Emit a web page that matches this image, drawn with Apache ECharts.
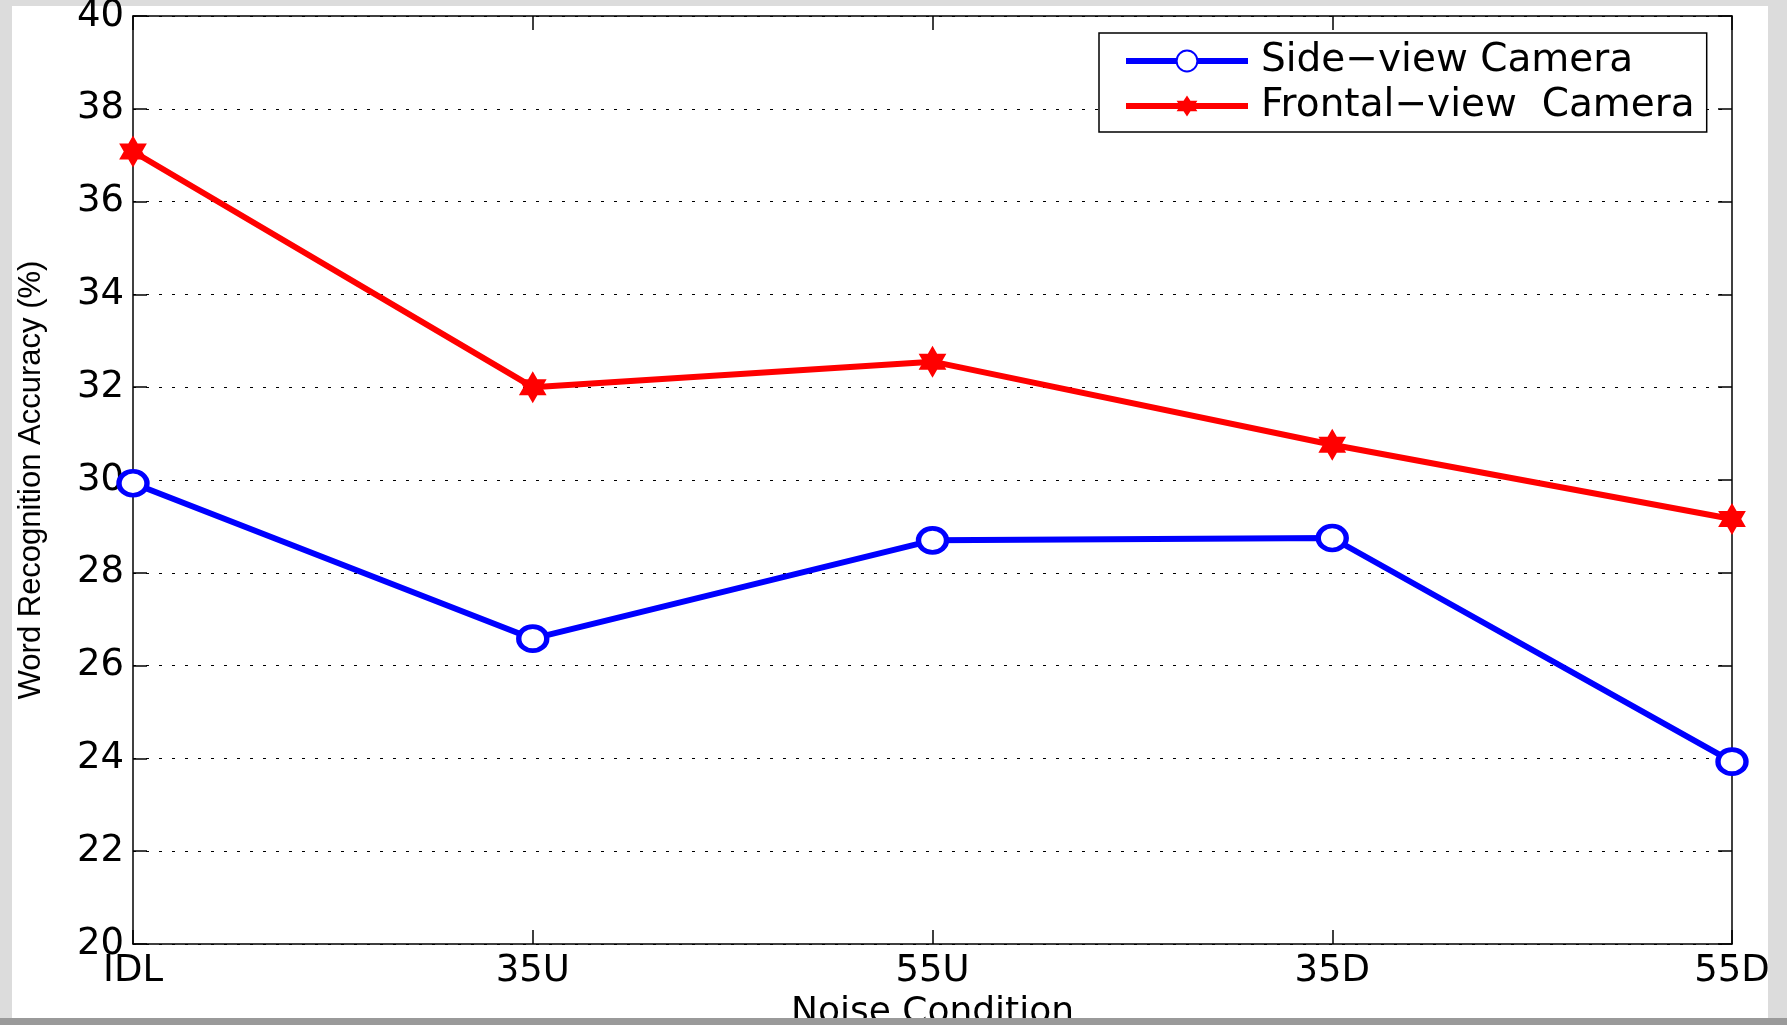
<!DOCTYPE html>
<html><head><meta charset="utf-8">
<script src="https://cdn.jsdelivr.net/npm/echarts@6/dist/echarts.min.js"></script>
<style>html,body{margin:0;padding:0;background:#dcdcdc;}#c{width:1787px;height:1025px;}</style>
</head><body><div id="c"></div>
<script>
const categories = ['IDL', '35U', '55U', '35D', '55D'];
const sideView = [29.93, 26.58, 28.7, 28.75, 23.93];
const frontalView = [37.08, 32.0, 32.55, 30.76, 29.16];
const yTicks = { min: 20, max: 40, interval: 2 };

const hexagram = 'path://M0,-10 L2.887,-5 L8.66,-5 L5.774,0 L8.66,5 L2.887,5 L0,10 L-2.887,5 L-8.66,5 L-5.774,0 L-8.66,-5 L-2.887,-5 Z';
const font = '"DejaVu Sans", "Liberation Sans", Arial, sans-serif';
const chart = echarts.init(document.getElementById('c'));
const grid = { left: 133, right: 1787 - 1732, top: 16, bottom: 1025 - 944, containLabel: false, outerBoundsMode: 'none' };
chart.setOption({
  backgroundColor: 'transparent',
  animation: false,
  graphic: [
    { type: 'rect', z: -10, shape: { x: 12, y: 6, width: 1756, height: 1012 }, style: { fill: '#ffffff' } },
    { type: 'rect', z: 100, shape: { x: 0, y: 1018, width: 1787, height: 7 }, style: { fill: '#9a9a9a' } }
  ],
  grid: grid,
  legend: {
    left: 1099, top: 33, orient: 'vertical',
    backgroundColor: '#fff',
    borderColor: '#000', borderWidth: 1.5,
    padding: [8, 12, 6, 24],
    itemWidth: 122, itemHeight: 26, itemGap: 5,
    lineStyle: { width: 6 },
    textStyle: { fontFamily: font, fontSize: 39, lineHeight: 40, color: '#000', padding: [0, 0, 0, 8] },
    data: ['Side\u2212view Camera', 'Frontal\u2212view  Camera']
  },
  xAxis: [{
    type: 'category', data: categories, boundaryGap: false,
    axisLine: { lineStyle: { color: '#000', width: 1.5 } },
    axisTick: { inside: true, length: 14, lineStyle: { color: '#000', width: 1.5 } },
    axisLabel: { fontFamily: font, fontSize: 37, color: '#000', margin: 9 },
    splitLine: { show: false },
    name: 'Noise Condition', nameLocation: 'middle', nameGap: 50,
    nameTextStyle: { fontFamily: font, fontSize: 36, color: '#000' }
  }, {
    type: 'category', data: categories, boundaryGap: false, position: 'top',
    axisLine: { lineStyle: { color: '#000', width: 1.5 } },
    axisTick: { inside: true, length: 14, lineStyle: { color: '#000', width: 1.5 } },
    axisLabel: { show: false }, splitLine: { show: false }
  }],
  yAxis: [{
    type: 'value', min: yTicks.min, max: yTicks.max, interval: yTicks.interval,
    axisLine: { show: true, lineStyle: { color: '#000', width: 1.5 } },
    axisTick: { show: true, inside: true, length: 14, lineStyle: { color: '#000', width: 1.5 } },
    axisLabel: { fontFamily: font, fontSize: 37, color: '#000', margin: 9 },
    splitLine: { show: true, lineStyle: { color: '#000', type: [3, 10], width: 1.2 } },
    name: 'Word Recognition Accuracy (%)', nameLocation: 'middle', nameGap: 86, nameRotate: 90,
    nameTextStyle: { fontFamily: '"Liberation Sans Narrow", "Liberation Sans", Arial, sans-serif', fontSize: 31, color: '#000' }
  }, {
    type: 'value', min: yTicks.min, max: yTicks.max, interval: yTicks.interval, position: 'right',
    axisLine: { show: true, lineStyle: { color: '#000', width: 1.5 } },
    axisTick: { show: true, inside: true, length: 14, lineStyle: { color: '#000', width: 1.5 } },
    axisLabel: { show: false }, splitLine: { show: false }
  }],
  series: [{
    name: 'Side\u2212view Camera', type: 'line', data: sideView,
    symbol: 'circle', symbolSize: [28, 24],
    lineStyle: { color: '#0000ff', width: 6 },
    itemStyle: { color: '#ffffff', borderColor: '#0000ff', borderWidth: 5 },
    z: 3
  }, {
    name: 'Frontal\u2212view  Camera', type: 'line', data: frontalView,
    symbol: hexagram, symbolSize: 32, symbolKeepAspect: true,
    lineStyle: { color: '#ff0000', width: 6 },
    itemStyle: { color: '#ff0000', borderWidth: 0 },
    z: 3
  }]
});
</script></body></html>
